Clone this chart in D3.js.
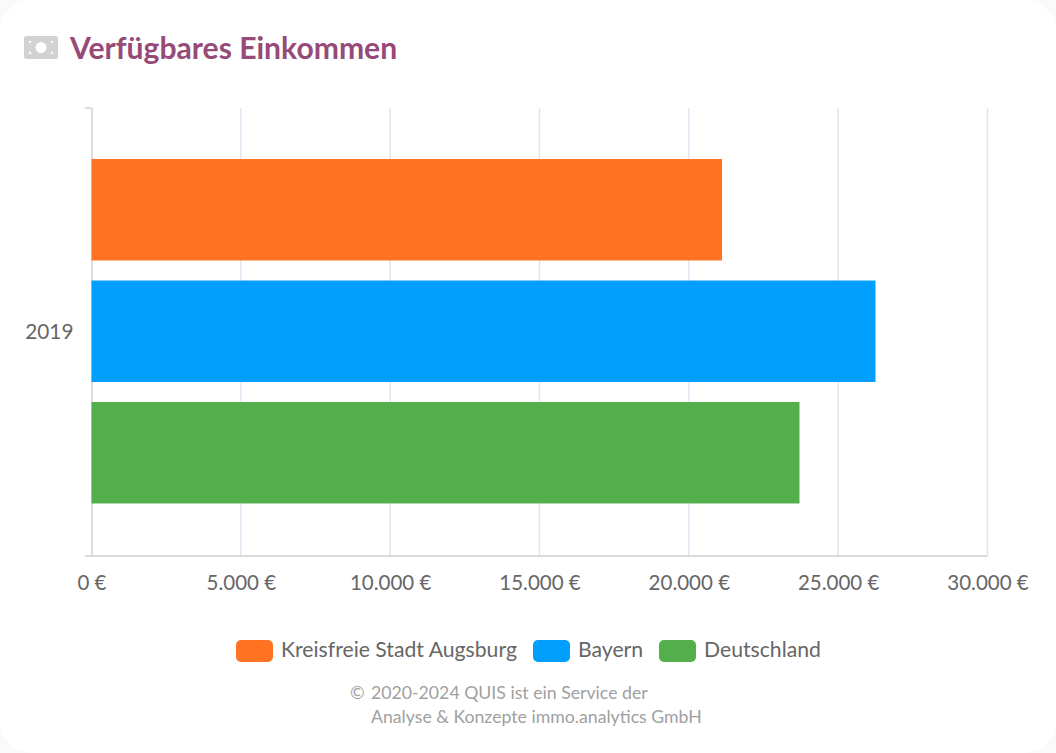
<!DOCTYPE html>
<html><head><meta charset="utf-8">
<script src="https://cdn.jsdelivr.net/npm/d3@7/dist/d3.min.js"></script>
<style>
html,body{margin:0;padding:0;background:#fafafa;width:1056px;height:753px;overflow:hidden}
svg{display:block;font-family:Lato,sans-serif}
</style></head><body>
<svg id="c" width="1056" height="753"></svg>
<script>
const chartTitle = "Verfügbares Einkommen";
const years = ["2019"];
const seriesNames = ["Kreisfreie Stadt Augsburg","Bayern","Deutschland"];
const seriesValues = [21110,26250,23705];
const seriesColors = ["#ff7323","#009ffd","#52af4c"];
const xTicks = [0,5000,10000,15000,20000,25000,30000];
const footerLines = ["2020-2024 QUIS ist ein Service der","Analyse & Konzepte immo.analytics GmbH"];

const svg = d3.select("#c");
svg.append("rect").attr("x",0).attr("y",0).attr("width",1056).attr("height",753).attr("rx",32).attr("fill","#fff");

// icon
const icon = svg.append("g").attr("transform","translate(24,36)");
icon.append("rect").attr("width",34).attr("height",23).attr("rx",2.5).attr("fill","#d2d2d2");
icon.append("circle").attr("cx",17).attr("cy",11.5).attr("r",5.5).attr("fill","#fff");
[[5,5,1,1],[29,5,-1,1],[5,18,1,-1],[29,18,-1,-1]].forEach(([px,py,a,b])=>{
  icon.append("path").attr("d",d3.line()([[px,py],[px+3*a,py],[px,py+3*b]])).attr("fill","#fff");
});
svg.append("text").attr("x",70).attr("y",59).attr("font-size",30.1).attr("font-weight",700).attr("fill","#964a78").text(chartTitle);

const plotL=91.5,plotR=987.5,plotT=108,plotB=556;
const x=d3.scaleLinear().domain([0,30000]).range([plotL,plotR]);
const y0=d3.scaleBand().domain(years).range([plotT,plotB]);
const y1=d3.scaleBand().domain(seriesNames).range([plotT,plotB-1.5]).paddingInner(.165).paddingOuter(.42);

// grid
svg.append("g").selectAll("line").data(xTicks.slice(1)).join("line")
  .attr("x1",d=>x(d)).attr("x2",d=>x(d)).attr("y1",plotT).attr("y2",plotB)
  .attr("stroke","#dfe4f2").attr("stroke-width",1.4);

// axes
const gx=svg.append("g").attr("transform",`translate(0,${plotB})`)
  .call(d3.axisBottom(x).tickValues(xTicks).tickSize(0).tickPadding(19)
    .tickFormat(d=>d3.format(",")(d).replace(/,/g,".")+" €"));
gx.select(".domain").remove();
gx.selectAll("text").attr("font-size",20.5).attr("font-family","Lato,sans-serif").attr("fill","#666");

svg.append("line").attr("x1",85).attr("x2",plotR).attr("y1",plotB).attr("y2",plotB).attr("stroke","#cfcfd4").attr("stroke-width",1.4);
svg.append("line").attr("x1",plotL+.5).attr("x2",plotL+.5).attr("y1",plotT).attr("y2",plotB).attr("stroke","#cfcfcf").attr("stroke-width",1.4);
svg.append("line").attr("x1",85).attr("x2",plotL).attr("y1",plotT).attr("y2",plotT).attr("stroke","#cfcfcf").attr("stroke-width",1.4);

const gy=svg.append("g").attr("transform",`translate(${plotL},0)`)
  .call(d3.axisLeft(y0).tickSize(0).tickPadding(18));
gy.select(".domain").remove();
gy.selectAll("text").attr("font-size",20.8).attr("font-family","Lato,sans-serif").attr("fill","#666");

// bars
svg.append("g").selectAll("rect").data(seriesNames).join("rect")
  .attr("x",x(0)).attr("y",d=>y1(d)).attr("height",y1.bandwidth())
  .attr("width",(d,i)=>x(seriesValues[i])-x(0)).attr("fill",(d,i)=>seriesColors[i]);

// legend
const legendX=[236,533,659];
const lg=svg.append("g").selectAll("g").data(seriesNames).join("g")
  .attr("transform",(d,i)=>`translate(${legendX[i]},640)`);
lg.append("rect").attr("width",37).attr("height",22).attr("rx",5).attr("fill",(d,i)=>seriesColors[i]);
lg.append("text").attr("x",45).attr("y",17).attr("font-size",21.2).attr("fill","#666").text(d=>d);

// footer
svg.append("text").attr("x",350).attr("y",699).attr("font-size",17.7).attr("fill","#a0a0a0").text("©");
svg.append("g").selectAll("text").data(footerLines).join("text")
  .attr("x",371).attr("y",(d,i)=>699+i*24).attr("font-size",17.7).attr("fill","#a0a0a0").text(d=>d);
</script></body></html>
